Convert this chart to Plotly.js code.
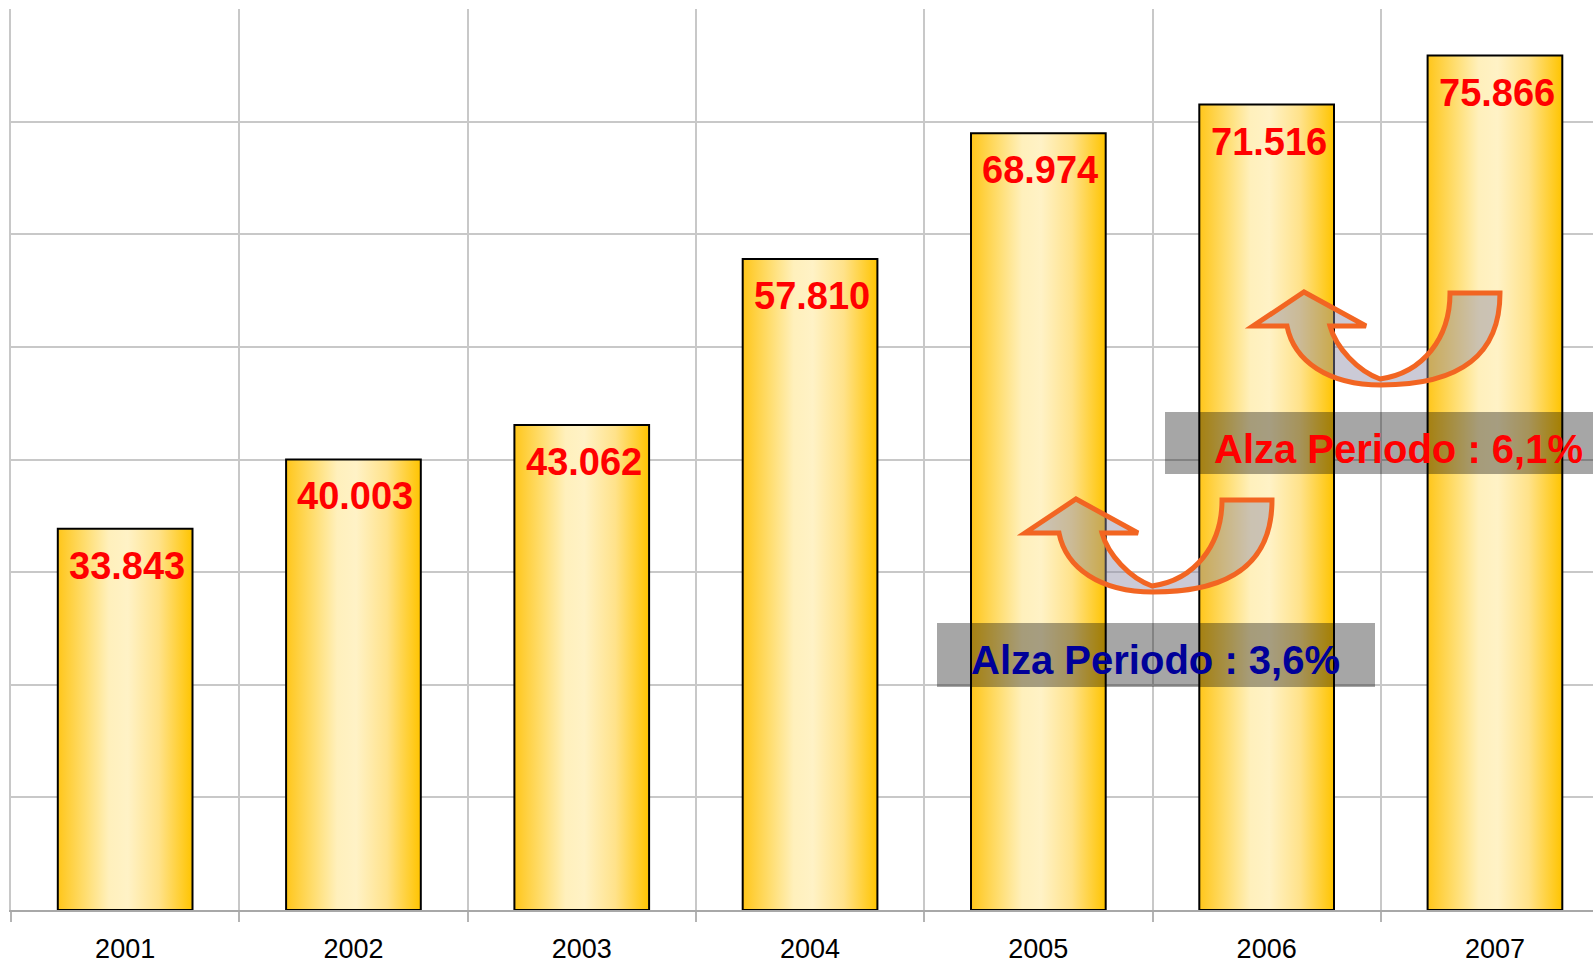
<!DOCTYPE html>
<html>
<head>
<meta charset="utf-8">
<script src="https://cdn.plot.ly/plotly-3.0.1.min.js"></script>
<style>
html,body{margin:0;padding:0;background:#fff;}
#chart{width:1593px;height:964px;}
</style>
</head>
<body>
<div id="chart"></div>
<script>
// ---- data ----
const years = ['2001', '2002', '2003', '2004', '2005', '2006', '2007'];
const values = [33843, 40003, 43062, 57810, 68974, 71516, 75866];
const valueLabels = ['33.843', '40.003', '43.062', '57.810', '68.974', '71.516', '75.866'];
const noteTexts = ['Alza Periodo : 3,6%', 'Alza Periodo : 6,1%'];
const noteColors = ['#000099', '#FF0000'];

// ---- layout helpers (pixel -> paper) ----
const M = {l: 11, r: 0, t: 9, b: 54};
const W = 1593, H = 964;
const PW = W - M.l - M.r, PH = H - M.t - M.b;
const px = x => (x - M.l) / PW;
const py = y => (H - M.b - y) / PH;

function arrowPath(dx, dy) {
  const P = (x, y) => px(x + dx).toFixed(5) + ',' + py(y + dy).toFixed(5);
  return 'M' + P(1059, 533) +
    ' C' + P(1066, 568) + ' ' + P(1100, 592) + ' ' + P(1153, 592) +
    ' C' + P(1235, 592) + ' ' + P(1272, 560) + ' ' + P(1272, 500) +
    ' L' + P(1222, 500) +
    ' C' + P(1222, 545) + ' ' + P(1195, 580) + ' ' + P(1152, 586) +
    ' C' + P(1130, 578) + ' ' + P(1108, 555) + ' ' + P(1102, 533) +
    ' L' + P(1138, 533) + ' L' + P(1076, 499) + ' L' + P(1025, 533) + ' Z';
}

const barTrace = {
  type: 'bar',
  x: years,
  y: values,
  width: 0.59,
  marker: {color: '#FFD84A', line: {color: '#000000', width: 2}},
  hoverinfo: 'skip'
};

const annotations = years.map((yr, i) => ({
  x: i, y: values[i], xref: 'x', yref: 'y',
  text: valueLabels[i], showarrow: false,
  yanchor: 'top', xanchor: 'center', yshift: -14, xshift: 2,
  font: {family: 'Liberation Sans, Arial, sans-serif', size: 38, color: '#FF0000', weight: 700}
}));

const notePos = [[1155.5, 660], [1398.5, 449]];
noteTexts.forEach((t, i) => {
  annotations.push({
    x: px(notePos[i][0]), y: py(notePos[i][1]), xref: 'paper', yref: 'paper',
    text: t, showarrow: false, xanchor: 'center', yanchor: 'middle',
    font: {family: 'Liberation Sans, Arial, sans-serif', size: 40, color: noteColors[i], weight: 700}
  });
});

const shapes = [
  {type: 'rect', xref: 'paper', yref: 'paper', layer: 'above',
   x0: px(937), x1: px(1375), y0: py(687), y1: py(623),
   fillcolor: 'rgba(0,0,0,0.35)', line: {width: 0}},
  {type: 'rect', xref: 'paper', yref: 'paper', layer: 'above',
   x0: px(1165), x1: px(1610), y0: py(474), y1: py(412),
   fillcolor: 'rgba(0,0,0,0.35)', line: {width: 0}},
  {type: 'path', xref: 'paper', yref: 'paper', layer: 'above', path: arrowPath(0, 0),
   fillcolor: 'rgba(140,138,165,0.45)', line: {color: '#F26522', width: 5}},
  {type: 'path', xref: 'paper', yref: 'paper', layer: 'above', path: arrowPath(228, -207),
   fillcolor: 'rgba(140,138,165,0.45)', line: {color: '#F26522', width: 5}}
];

const layout = {
  width: W, height: H,
  margin: M,
  paper_bgcolor: '#ffffff', plot_bgcolor: '#ffffff',
  showlegend: false,
  xaxis: {
    type: 'category', range: [-0.5, -0.5 + PW / 228.3],
    tickson: 'boundaries', ticks: 'outside', ticklen: 10, tickwidth: 2, tickcolor: '#B4B4B4',
    showgrid: true, gridcolor: '#C8C8C8', gridwidth: 2,
    showline: true, linecolor: '#A8A8A8', linewidth: 2,
    tickfont: {family: 'Liberation Sans, Arial, sans-serif', size: 27, color: '#000000'},
    ticklabelstandoff: 14,
    zeroline: false, fixedrange: true
  },
  yaxis: {
    range: [0, 80000], dtick: 10000, tick0: 0,
    showticklabels: false, ticks: '',
    showgrid: true, gridcolor: '#C8C8C8', gridwidth: 2,
    showline: true, linecolor: '#C8C8C8', linewidth: 2,
    zeroline: false, fixedrange: true
  },
  annotations: annotations,
  shapes: shapes
};

Plotly.newPlot('chart', [barTrace], layout, {displayModeBar: false, staticPlot: true}).then(gd => {
  const svg = gd.querySelector('svg.main-svg');
  const NS = 'http://www.w3.org/2000/svg';
  let defs = svg.querySelector('defs');
  if (!defs) { defs = document.createElementNS(NS, 'defs'); svg.insertBefore(defs, svg.firstChild); }
  const g = document.createElementNS(NS, 'linearGradient');
  g.setAttribute('id', 'barGrad');
  g.setAttribute('x1', '0'); g.setAttribute('y1', '0');
  g.setAttribute('x2', '1'); g.setAttribute('y2', '0');
  [['0', '#FFC61A'], ['0.2', '#FFDD6E'], ['0.38', '#FFF0BC'], ['0.52', '#FFF2C6'],
   ['0.75', '#FFE28A'], ['1', '#FFC400']].forEach(([o, c]) => {
    const s = document.createElementNS(NS, 'stop');
    s.setAttribute('offset', o); s.setAttribute('stop-color', c);
    g.appendChild(s);
  });
  defs.appendChild(g);
  gd.querySelectorAll('.barlayer .point path').forEach(p => { p.style.fill = 'url(#barGrad)'; });
});
</script>
</body>
</html>
